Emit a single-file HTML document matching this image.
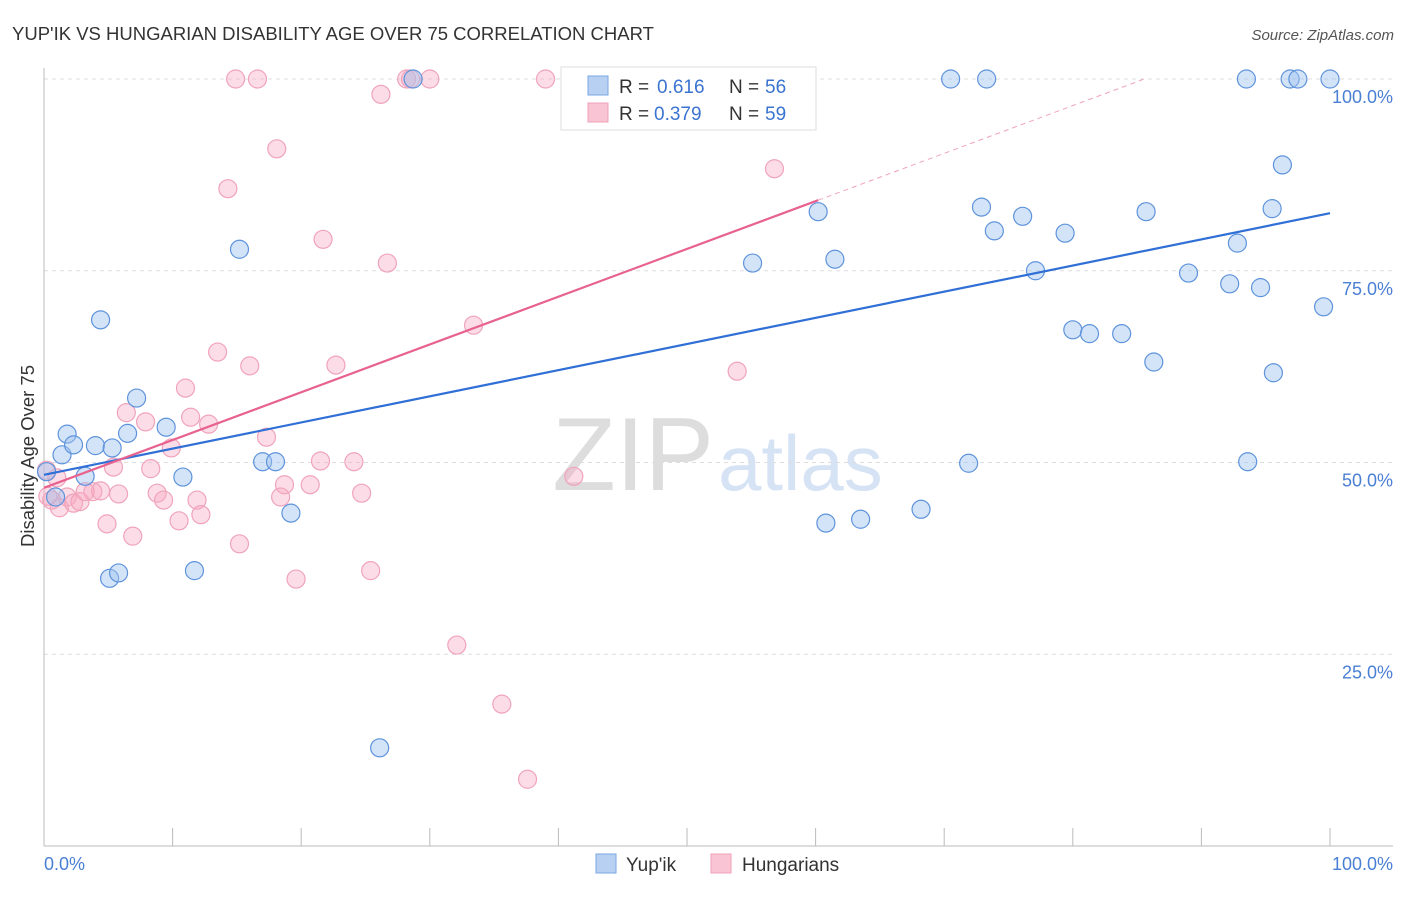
<!DOCTYPE html>
<html><head><meta charset="utf-8"><style>
body{margin:0;background:#fff;font-family:"Liberation Sans",sans-serif}
svg text{font-family:"Liberation Sans",sans-serif}
</style></head><body>
<svg id="c" width="1406" height="892" xmlns="http://www.w3.org/2000/svg">
<text x="12" y="40" font-size="18.5" fill="#333">YUP'IK VS HUNGARIAN DISABILITY AGE OVER 75 CORRELATION CHART</text>
<text x="1394" y="40" font-size="15" fill="#555" text-anchor="end" font-style="italic">Source: ZipAtlas.com</text>
<text x="714" y="490" font-size="104" fill="#ddd" text-anchor="end" font-family="Liberation Serif">ZIP</text>
<text x="718" y="490" font-size="78" fill="#d6e3f5">atlas</text>
<g id="grid"></g><g id="axes"></g><g id="pts"></g><g id="lines"></g>
<text x="34" y="456" font-size="18.5" fill="#333" text-anchor="middle" transform="rotate(-90 34 456)">Disability Age Over 75</text>
<g>
<rect x="561" y="67" width="255" height="63" fill="#fff" stroke="#ddd"/>
<rect x="588" y="76" width="20" height="19" fill="#b8d1f3" stroke="#7aa6e3"/>
<rect x="588" y="103" width="20" height="19" fill="#f9c4d3" stroke="#f0a0b8"/>
<text x="619" y="93" font-size="19" fill="#333">R = <tspan x="657" fill="#3a74d0">0.616</tspan><tspan x="729">N = </tspan><tspan x="765" fill="#3a74d0">56</tspan></text>
<text x="619" y="120" font-size="19" fill="#333">R = <tspan x="654" fill="#3a74d0">0.379</tspan><tspan x="729">N = </tspan><tspan x="765" fill="#3a74d0">59</tspan></text>
</g>
<g>
<rect x="596" y="854" width="20" height="19" fill="#b8d1f3" stroke="#7aa6e3"/>
<text x="626" y="871" font-size="19" fill="#333">Yup'ik</text>
<rect x="711" y="854" width="20" height="19" fill="#f9c4d3" stroke="#f0a0b8"/>
<text x="742" y="871" font-size="19" fill="#333">Hungarians</text>
</g>
</svg>
<script>
const blueX=[0.2,0.9,1.4,1.8,2.3,3.2,4.0,4.4,5.1,5.3,5.8,6.5,7.2,9.5,10.8,11.7,15.2,17.0,18.0,19.2,26.1,28.7,41.0,55.1,58.4,60.2,60.8,61.5,63.5,68.2,70.5,71.9,72.9,73.3,73.9,76.1,77.1,79.4,80.0,81.3,83.8,85.7,86.3,89.0,92.2,92.8,93.5,93.6,94.6,95.5,95.6,96.3,96.9,97.5,99.5,100];
const blueY=[48.8,45.5,51.0,53.7,52.3,48.2,52.2,68.6,34.9,51.9,35.6,53.8,58.4,54.6,48.1,35.9,77.8,50.1,50.1,43.4,12.8,100,100,76.0,100,82.7,42.1,76.5,42.6,43.9,100,49.9,83.3,100,80.2,82.1,75.0,79.9,67.3,66.8,66.8,82.7,63.1,74.7,73.3,78.6,100,50.1,72.8,83.1,61.7,88.8,100,100,70.3,100];
const pinkX=[0.2,0.6,1.0,1.2,1.8,2.3,2.8,3.8,4.4,4.9,5.4,5.8,6.4,6.9,7.9,8.3,8.8,9.3,9.9,10.5,11.0,11.4,11.9,12.2,12.8,13.5,14.3,14.9,15.2,16.0,16.6,17.3,18.1,18.4,18.7,19.6,20.7,21.5,21.7,22.7,24.1,24.7,25.4,26.2,26.7,28.2,28.5,30.0,32.1,33.4,35.6,37.6,39.0,41.2,53.9,56.8,3.2,41.1,0.3];
const pinkY=[49.0,45.1,48.0,44.1,45.5,44.7,44.9,46.2,46.3,42.0,49.4,45.9,56.5,40.4,55.3,49.2,46.0,45.1,51.9,42.4,59.7,55.9,45.1,43.2,55.0,64.4,85.7,100,39.4,62.6,100,53.3,90.9,45.5,47.1,34.8,47.1,50.2,79.1,62.7,50.1,46.0,35.9,98.0,76.0,100,100,100,26.2,67.9,18.5,8.7,100,48.2,61.9,88.3,46.2,100,45.6];
const blueTrend=[48.4,82.5];
const pinkTrend=[46.7,84.2,60.2];
const yTicks=[25,50,75,100];
const yTickLabels=["25.0%","50.0%","75.0%","100.0%"];
const xTicks=[0,10,20,30,40,50,60,70,80,90,100];
const NS="http://www.w3.org/2000/svg";
const X=v=>44+v*12.86, Y=v=>846-v*7.67;
function mk(t,a,p){const e=document.createElementNS(NS,t);for(const k in a)e.setAttribute(k,a[k]);document.getElementById(p).appendChild(e);return e;}
yTicks.forEach((t,i)=>{
 const g=mk('line',{x1:44,x2:1393,y1:Y(t),y2:Y(t),stroke:'#ddd','stroke-dasharray':'4 4'},'grid');
 
 
 const l=mk('text',{x:1393,y:Y(t)+24,'font-size':18,fill:'#4a7fd4','text-anchor':'end'},'axes');l.textContent=yTickLabels[i];
 
 
});
const ax=mk('line',{x1:44,x2:44,y1:68,y2:846,stroke:'#bbb'},'axes');


const bx=mk('line',{x1:44,x2:1393,y1:846,y2:846,stroke:'#bbb'},'axes');


xTicks.forEach(t=>{const e=mk('line',{x1:X(t),x2:X(t),y1:828,y2:846,stroke:'#bbb'},'axes');
 
 });
const x0=mk('text',{x:44,y:870,'font-size':18,fill:'#4a7fd4'},'axes');x0.textContent='0.0%';


const x1=mk('text',{x:1393,y:870,'font-size':18,fill:'#4a7fd4','text-anchor':'end'},'axes');x1.textContent='100.0%';


pinkX.forEach((v,i)=>{const c=mk('circle',{cx:X(v),cy:Y(pinkY[i]),r:9,fill:'rgba(247,170,195,0.4)',stroke:'#f0a3bb','stroke-width':1.2},'pts');
 
 });
blueX.forEach((v,i)=>{const c=mk('circle',{cx:X(v),cy:Y(blueY[i]),r:9,fill:'rgba(160,195,240,0.45)',stroke:'#5e93dc','stroke-width':1.2},'pts');
 
 });
const bt=mk('line',{x1:X(0),y1:Y(blueTrend[0]),x2:X(100),y2:Y(blueTrend[1]),stroke:'#2f6fd6','stroke-width':2.2},'lines');


const ps=(pinkTrend[1]-pinkTrend[0])/pinkTrend[2];
const pt=mk('line',{x1:X(0),y1:Y(pinkTrend[0]),x2:X(pinkTrend[2]),y2:Y(pinkTrend[1]),stroke:'#e8628f','stroke-width':2.2},'lines');


const xe=(100-pinkTrend[0])/ps;
const pd=mk('line',{x1:X(pinkTrend[2]),y1:Y(pinkTrend[1]),x2:X(xe),y2:Y(100),stroke:'#f0a3bb','stroke-width':1,'stroke-dasharray':'5 4'},'lines');


</script>
</body></html>
